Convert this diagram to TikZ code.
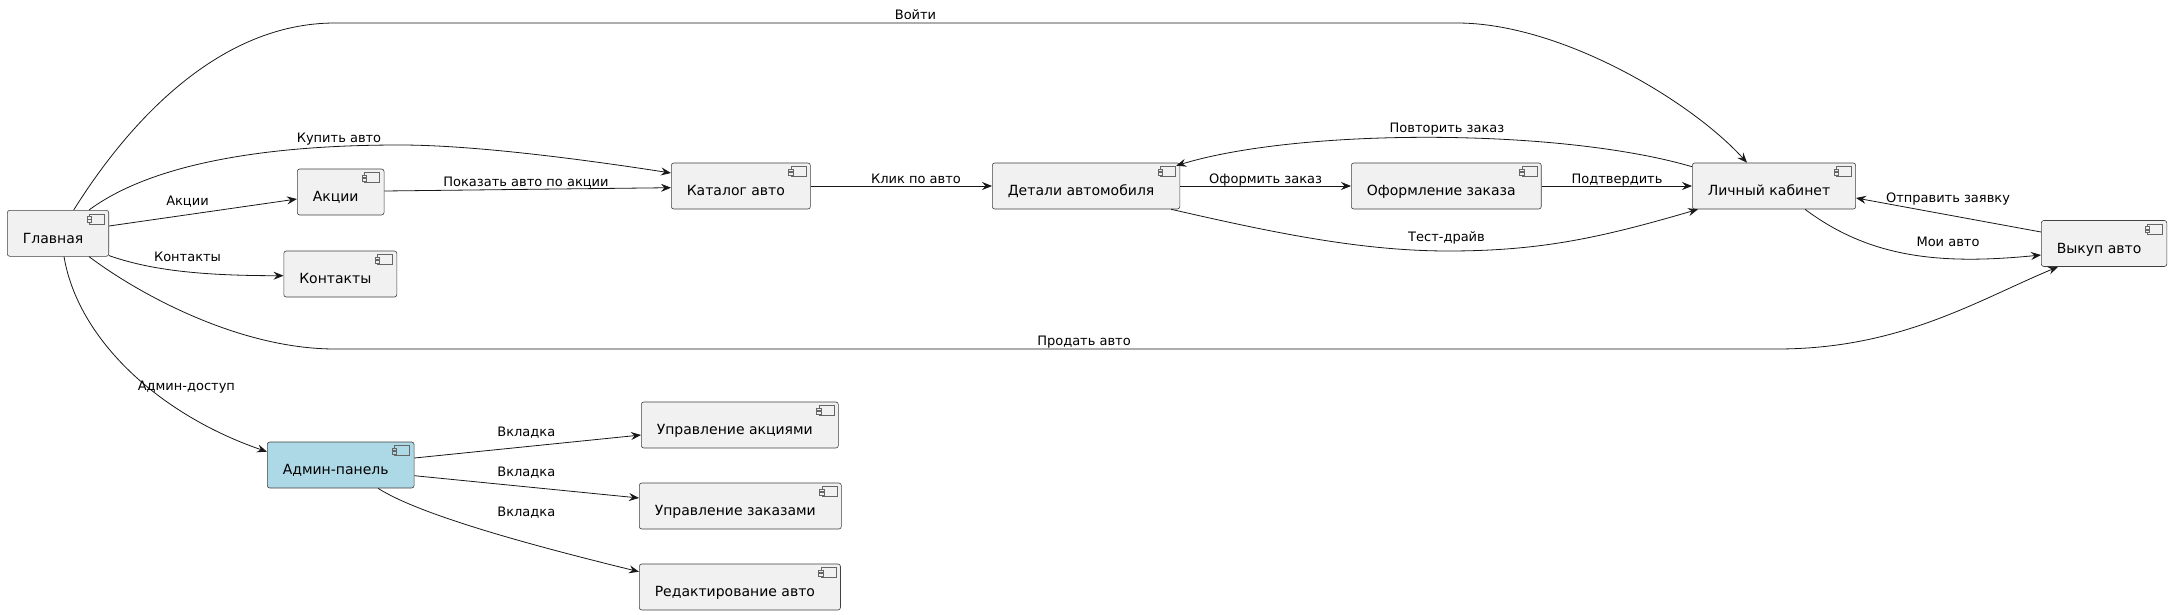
\documentclass[tikz,border=0pt]{standalone}
\usepackage{fontspec}
\setmainfont{DejaVu Sans}
\usepackage{tikz}
\usetikzlibrary{arrows.meta, positioning}
\definecolor{compfill}{HTML}{F1F1F1}
\definecolor{adminfill}{HTML}{ADD8E6}
\definecolor{edgecol}{HTML}{181818}
\newcommand\compicon[1]{%
  \draw[icon] ([xshift=-19.5pt,yshift=-3.5pt]path picture bounding box.north east) rectangle ++(15pt,-10pt);
  \draw[icon, fill=#1] ([xshift=-21.8pt,yshift=-5.8pt]path picture bounding box.north east) rectangle ++(4.3pt,-2.7pt);
  \draw[icon, fill=#1] ([xshift=-21.8pt,yshift=-9.4pt]path picture bounding box.north east) rectangle ++(4.3pt,-2.7pt);
}
\begin{document}
\begin{tikzpicture}[x=1pt, y=-1pt,
  icon/.style = {draw=black!60, line width=0.5pt, sharp corners},
  comp/.style = {draw=black!75, line width=0.6pt, fill=#1, rounded corners=2.5pt,
    anchor=west, inner xsep=15.5pt, inner ysep=0pt, text height=32.7pt, text depth=13.3pt,
    font=\fontsize{14}{16}\selectfont, execute at end node={\hspace*{10pt}},
    path picture={\compicon{#1}}},
  comp/.default = compfill,
  lbl/.style = {anchor=base, inner sep=0pt, font=\fontsize{13}{15}\selectfont},
  arr/.style = {-{Stealth[length=10pt, width=8pt, inset=3.5pt]}, draw=edgecol, line width=0.8pt}]
  \fill[white] (0,0) rectangle (2169,615);
  % components
  \node (glav) [comp] at (7,233.3) {Главная};
  \node (akc) [comp] at (297,192) {Акции};
  \node (kont) [comp] at (283.5,274) {Контакты};
  \node (kat) [comp] at (671,186) {Каталог авто};
  \node (det) [comp] at (992,186) {Детали автомобиля};
  \node (ofo) [comp] at (1351,186) {Оформление заказа};
  \node (lk) [comp] at (1692,186) {Личный кабинет};
  \node (vyk) [comp] at (2041,243.5) {Выкуп авто};
  \node (adm) [comp=adminfill] at (267,465) {Админ-панель};
  \node (upak) [comp] at (641,425) {Управление акциями};
  \node (upzak) [comp] at (639,506) {Управление заказами};
  \node (red) [comp] at (639,587) {Редактирование авто};
  % connectors
  \draw[arr] ([xshift=66.7pt]glav.north west) .. controls (130,120) and (220,23) .. (335,23)
    -- (1457,23) .. controls (1560,23) and (1690,100) .. ([xshift=55pt]lk.north west)
    node[lbl] at (915.5,19.5) {Войти};
  \draw[arr] ([xshift=82pt]glav.north west) .. controls (150,165) and (260,145) .. (400,145)
    .. controls (480,145) and (600,162) .. ([yshift=13pt]kat.west)
    node[lbl] at (339,142.5) {Купить авто};
  \draw[arr] ([yshift=7.3pt]glav.east) -- ([yshift=-7pt]akc.west)
    node[lbl] at (187.5,205.5) {Акции};
  \draw[arr] ([yshift=1pt]glav.south east) .. controls (150,270) and (200,275.7) .. ([yshift=-1.7pt]kont.west)
    node[lbl] at (187.5,261.5) {Контакты};
  \draw[arr] ([xshift=82pt]glav.south west) .. controls (140,295) and (240,349) .. (335,349)
    -- (1777,349) .. controls (1900,349) and (1976,301) .. ([xshift=17pt]vyk.south west)
    node[lbl] at (1084,345.7) {Продать авто};
  \draw[arr] ([xshift=57pt]glav.south west) .. controls (78,340) and (160,415) .. ([yshift=13.3pt]adm.west)
    node[lbl] at (186.4,390) {Админ-доступ};
  \draw[arr] ([yshift=1pt]akc.east) -- ([yshift=-1.7pt]kat.west)
    node[lbl] at (526,186) {Показать авто по акции};
  \draw[arr] (kat.east) -- (det.west)
    node[lbl] at (916,183) {Клик по авто};
  \draw[arr] (det.east) -- (ofo.west)
    node[lbl] at (1265.6,183) {Оформить заказ};
  \draw[arr] (ofo.east) -- (lk.west)
    node[lbl] at (1617,183) {Подтвердить};
  \draw[arr] ([yshift=-4pt]lk.north west) .. controls (1560,128) and (1300,128) .. ([xshift=-4pt,yshift=-3pt]det.north east)
    node[lbl] at (1447,133) {Повторить заказ};
  \draw[arr] ([xshift=-9pt]det.south east) .. controls (1270,232) and (1360,251) .. (1448,251)
    .. controls (1540,251) and (1600,238) .. ([xshift=6pt]lk.south west)
    node[lbl] at (1446.5,241.5) {Тест-драйв};
  \draw[arr] ([yshift=11.5pt]vyk.west) -- ([yshift=-12pt]lk.east)
    node[lbl] at (1948,202.5) {Отправить заявку};
  \draw[arr] ([xshift=113pt]lk.south west) .. controls (1870,258) and (1940,265) .. ([yshift=-11.5pt]vyk.west)
    node[lbl] at (1948,246.5) {Мои авто};
  \draw[arr] ([yshift=7pt]adm.east) -- ([yshift=-10pt]upak.west)
    node[lbl] at (526.3,436.5) {Вкладка};
  \draw[arr] ([yshift=-10.7pt]adm.east) -- ([yshift=8pt]upzak.west)
    node[lbl] at (526.3,476) {Вкладка};
  \draw[arr] ([xshift=111pt]adm.south west) .. controls (420,515) and (530,545) .. ([yshift=15.3pt]red.west)
    node[lbl] at (526.3,516) {Вкладка};
\end{tikzpicture}
\end{document}
